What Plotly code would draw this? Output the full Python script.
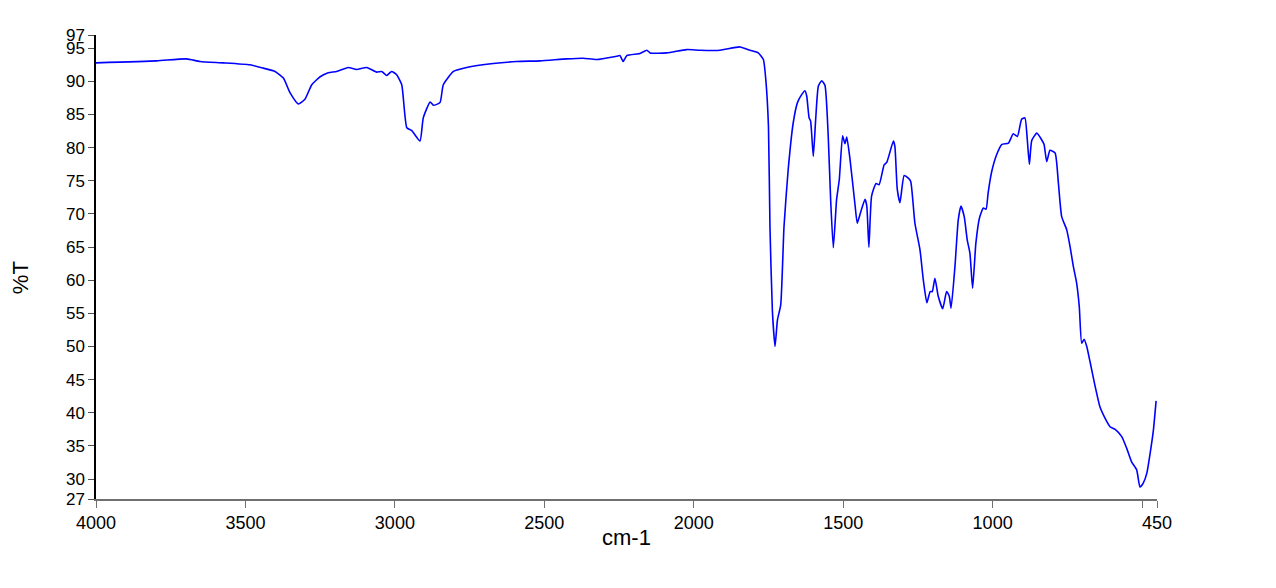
import plotly.graph_objects as go

# IR spectrum
wavenumber = [
    4000, 3797, 3697, 3652, 3574, 3485, 3440, 3401, 3373, 3351,
    3323, 3301, 3278, 3250, 3223, 3195, 3156, 3128, 3094, 3061,
    3044, 3027, 3011, 2994, 2977, 2960, 2944, 2916, 2905, 2882,
    2871, 2849, 2838, 2804, 2760, 2671, 2592, 2514, 2425, 2370,
    2325, 2258, 2247, 2236, 2224, 2180, 2157, 2146, 2090, 2024,
    1979, 1912, 1845, 1812, 1784, 1767, 1759, 1750, 1745, 1737,
    1728, 1720, 1709, 1698, 1684, 1667, 1653, 1639, 1628, 1622,
    1614, 1609, 1600, 1592, 1583, 1572, 1561, 1550, 1542, 1533,
    1522, 1513, 1502, 1494, 1488, 1477, 1460, 1453, 1444, 1427,
    1421, 1414, 1405, 1390, 1380, 1363, 1354, 1332, 1327, 1319,
    1310, 1296, 1282, 1274, 1260, 1243, 1232, 1220, 1209, 1202,
    1193, 1182, 1167, 1154, 1145, 1139, 1126, 1115, 1106, 1095,
    1085, 1076, 1067, 1056, 1044, 1031, 1022, 1015, 1003, 986,
    969, 947, 931, 917, 903, 892, 884, 877, 869, 852,
    836, 828, 819, 808, 791, 780, 769, 752, 741, 730,
    719, 710, 702, 694, 685, 674, 657, 641, 624, 607,
    590, 568, 551, 535, 518, 507, 496, 484, 473, 462,
    453,
]
transmittance = [
    92.8, 93.1, 93.4, 93.0, 92.8, 92.5, 92.0, 91.5, 90.5, 88.3,
    86.6, 87.3, 89.5, 90.7, 91.3, 91.5, 92.1, 91.8, 92.1, 91.4,
    91.5, 90.9, 91.5, 91.0, 89.5, 83.0, 82.6, 81.0, 84.5, 86.9,
    86.4, 86.8, 89.5, 91.5, 92.1, 92.7, 93.0, 93.1, 93.4, 93.5,
    93.3, 93.8, 93.9, 93.0, 93.9, 94.2, 94.7, 94.3, 94.3, 94.8,
    94.7, 94.7, 95.2, 94.7, 94.3, 93.3, 90.3, 83.2, 68.1, 55.5,
    50.0, 54.0, 56.3, 68.1, 76.7, 83.8, 86.8, 88.0, 88.6, 87.8,
    84.5, 84.0, 78.7, 84.3, 89.3, 90.1, 89.4, 81.7, 72.2, 64.9,
    72.2, 75.2, 81.8, 80.6, 81.6, 78.2, 71.2, 68.6, 69.9, 72.2,
    71.2, 65.0, 72.7, 74.6, 74.4, 77.4, 77.8, 81.0, 80.2, 73.7,
    71.7, 75.8, 75.4, 74.9, 68.6, 64.6, 60.1, 56.6, 58.3, 58.3,
    60.3, 57.6, 55.7, 58.3, 57.6, 55.8, 62.1, 69.1, 71.2, 69.6,
    66.1, 64.1, 58.8, 65.6, 69.4, 70.9, 70.7, 73.2, 76.4, 79.0,
    80.5, 80.7, 82.1, 81.7, 84.3, 84.5, 81.2, 77.5, 81.1, 82.2,
    81.2, 80.5, 77.9, 79.6, 79.2, 74.7, 69.6, 67.6, 65.1, 62.1,
    59.6, 56.0, 50.5, 51.1, 50.0, 47.7, 44.0, 40.9, 39.2, 37.9,
    37.5, 36.4, 34.6, 32.6, 31.4, 28.8, 29.4, 30.9, 33.9, 37.4,
    41.8,
]

x_ticks = [4000, 3500, 3000, 2500, 2000, 1500, 1000, 500, 450]
x_ticktext = ["4000", "3500", "3000", "2500", "2000", "1500", "1000", "", "450"]
y_ticks = [27, 30, 35, 40, 45, 50, 55, 60, 65, 70, 75, 80, 85, 90, 95, 97]

FONT = "Liberation Sans, Arial, sans-serif"

fig = go.Figure()
fig.add_scatter(
    x=wavenumber,
    y=transmittance,
    mode="lines",
    line={"color": "#0000ff", "width": 1.6, "shape": "spline", "smoothing": 0.5},
    showlegend=False,
)

# axis titles placed as annotations so the plot area stays put
fig.add_annotation(
    text="cm-1", xref="paper", yref="paper", x=0.5, y=-0.082,
    xanchor="center", yanchor="middle", showarrow=False,
    font={"size": 22, "color": "black"},
)
fig.add_annotation(
    text="%T", xref="paper", yref="paper", x=-0.0716, y=0.476,
    xanchor="center", yanchor="middle", showarrow=False, textangle=-90,
    font={"size": 22, "color": "black"},
)

(
    fig.update_xaxes(
        range=[4000, 450],
        tickvals=x_ticks,
        ticktext=x_ticktext,
        ticks="outside",
        ticklen=7,
        tickcolor="#707070",
        showline=True,
        linecolor="#707070",
        linewidth=1.5,
        showgrid=False,
        zeroline=False,
        automargin=False,
        tickfont={"size": 18, "color": "black"},
    )
    .update_yaxes(
        range=[27, 97],
        tickvals=y_ticks,
        ticks="outside",
        ticklen=6,
        tickcolor="#505050",
        showline=True,
        linecolor="black",
        linewidth=1.5,
        showgrid=False,
        zeroline=False,
        automargin=False,
        tickfont={"size": 17, "color": "black"},
    )
    .update_layout(
        # page body adds an 8px offset, so the figure is sized to fit the window
        width=1268,
        height=580,
        margin={"l": 88, "r": 119, "t": 27, "b": 89},
        plot_bgcolor="white",
        paper_bgcolor="white",
        font={"family": FONT},
    )
)

fig.write_html("out.html")
